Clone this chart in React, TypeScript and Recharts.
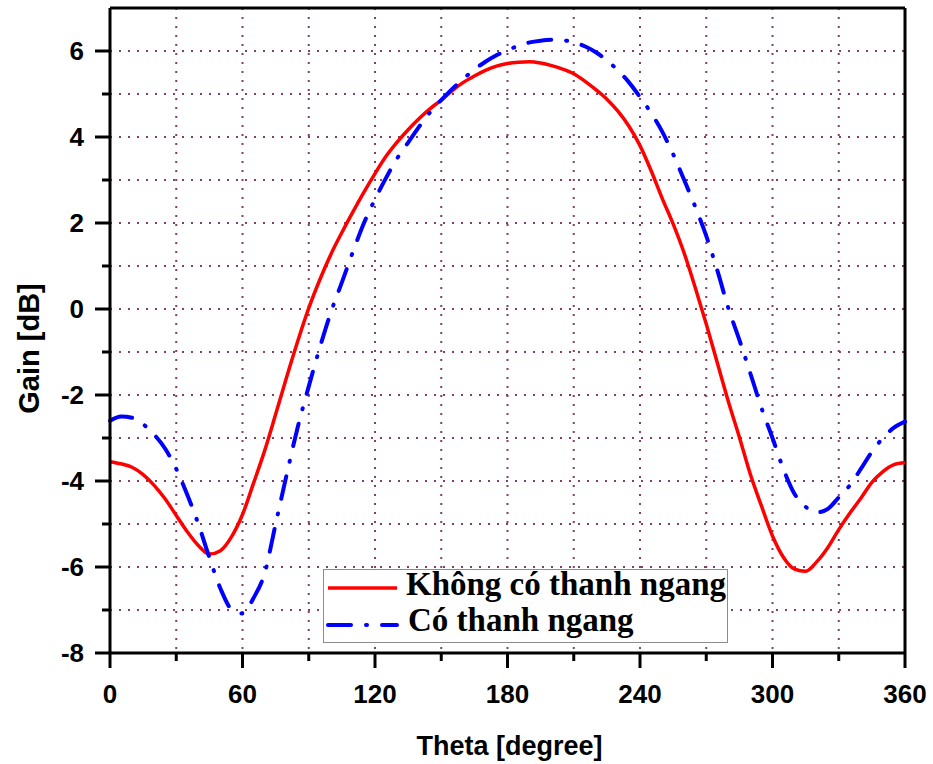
import React from "react";
import {
  LineChart,
  Line,
  XAxis,
  YAxis,
  CartesianGrid,
  ReferenceLine,
  Legend,
  Label,
} from "recharts";

const theta = [
  0, 5, 10, 15, 20, 25, 30, 35, 40, 45, 50, 55, 60, 65, 70, 75, 80, 85, 90, 95,
  100, 105, 110, 115, 120, 125, 130, 135, 140, 145, 150, 155, 160, 165, 170,
  175, 180, 185, 190, 195, 200, 205, 210, 215, 220, 225, 230, 235, 240, 245,
  250, 255, 260, 265, 270, 275, 280, 285, 290, 295, 300, 305, 310, 315, 320,
  325, 330, 335, 340, 345, 350, 355, 360,
];

// Không có thanh ngang
const gainNoBar = [
  -3.55, -3.6, -3.68, -3.85, -4.1, -4.42, -4.8, -5.18, -5.5, -5.7, -5.62,
  -5.3, -4.78, -4.05, -3.3, -2.45, -1.58, -0.75, 0.02, 0.68, 1.27, 1.78, 2.26,
  2.72, 3.15, 3.55, 3.88, 4.17, 4.43, 4.66, 4.86, 5.08, 5.27, 5.42, 5.55, 5.65,
  5.71, 5.74, 5.75, 5.72, 5.66, 5.58, 5.47, 5.3, 5.1, 4.88, 4.6, 4.25, 3.8,
  3.22, 2.58, 1.98, 1.3, 0.5, -0.35, -1.25, -2.15, -2.98, -3.85, -4.58, -5.28,
  -5.78, -6.05, -6.1, -5.88, -5.55, -5.13, -4.75, -4.4, -4.03, -3.78, -3.62,
  -3.57,
];

// Có thanh ngang
const gainBar = [
  -2.6, -2.5, -2.53, -2.68, -2.92, -3.25, -3.72, -4.32, -5.0, -5.78, -6.5,
  -6.98, -7.08, -6.72, -6.15, -5.0, -3.85, -2.75, -1.8, -0.9, -0.08, 0.62,
  1.33, 2.0, 2.55, 3.05, 3.5, 3.87, 4.24, 4.58, 4.86, 5.12, 5.35, 5.57, 5.75,
  5.9, 6.02, 6.12, 6.2, 6.24, 6.26, 6.25, 6.2, 6.11, 5.97, 5.78, 5.55, 5.27,
  4.93, 4.56, 4.13, 3.6, 3.0, 2.38, 1.7, 0.9, 0.02, -0.72, -1.5, -2.3, -3.0,
  -3.73, -4.3, -4.6, -4.73, -4.65, -4.38, -4.1, -3.72, -3.32, -3.0, -2.76,
  -2.62,
];

const xTicks = [0, 30, 60, 90, 120, 150, 180, 210, 240, 270, 300, 330, 360];
const yTicks = [-8, -7, -6, -5, -4, -3, -2, -1, 0, 1, 2, 3, 4, 5, 6];

const data = theta.map((t, i) => ({
  theta: t,
  noBar: gainNoBar[i],
  bar: gainBar[i],
}));

const sans = "'Liberation Sans', Arial, sans-serif";
const serif = "'Liberation Serif', 'Times New Roman', serif";
const dashDot = "23 15 1 15";

const XTick = (props: any) => {
  const { x, y, payload } = props;
  const major = payload.value % 60 === 0;
  return (
    <g>
      <line x1={x} y1={y} x2={x} y2={y + (major ? 15 : 8)} stroke="#000" strokeWidth={3} />
      {major && (
        <text x={x} y={y + 50} textAnchor="middle" fontFamily={sans} fontWeight="bold" fontSize={26} fill="#000">
          {payload.value}
        </text>
      )}
    </g>
  );
};

const YTick = (props: any) => {
  const { x, y, payload } = props;
  const major = payload.value % 2 === 0;
  return (
    <g>
      <line x1={x - (major ? 15 : 8)} y1={y} x2={x} y2={y} stroke="#000" strokeWidth={3} />
      {major && (
        <text x={x - 26} y={y + 9} textAnchor="end" fontFamily={sans} fontWeight="bold" fontSize={26} fill="#000">
          {payload.value}
        </text>
      )}
    </g>
  );
};

const LegendBox = () => (
  <svg width={406} height={76} style={{ display: "block", overflow: "visible" }}>
    <rect x={0.5} y={0.5} width={404} height={73} fill="#fff" stroke="#8c8c8c" strokeWidth={1} />
    <line x1={5} y1={19} x2={74} y2={19} stroke="#ff0000" strokeWidth={3.5} />
    <text x={83} y={26} fontFamily={serif} fontWeight="bold" fontSize={33} fill="#000">
      Không có thanh ngang
    </text>
    <line x1={5} y1={56} x2={74} y2={56} stroke="#0000ff" strokeWidth={4} strokeDasharray={dashDot} strokeLinecap="round" />
    <text x={85} y={62} fontFamily={serif} fontWeight="bold" fontSize={33} fill="#000">
      Có thanh ngang
    </text>
  </svg>
);

export default function App() {
  return (
    <div style={{ position: "absolute", left: 0, top: 0, background: "#fff" }}>
      <LineChart width={933} height={764} data={data} margin={{ top: 8, right: 28, left: 0, bottom: 0 }}>
        <CartesianGrid stroke="#80406a" strokeWidth={2} strokeDasharray="2 7" />
        <XAxis
          dataKey="theta"
          type="number"
          domain={[0, 360]}
          ticks={xTicks}
          interval={0}
          height={111}
          tickSize={0}
          tickMargin={0}
          tickLine={false}
          tick={<XTick />}
          axisLine={{ stroke: "#000", strokeWidth: 3 }}
        >
          <Label
            content={(p: any) => {
              const vb = p.viewBox;
              return (
                <text x={vb.x + vb.width / 2 + 2} y={755} textAnchor="middle" fontFamily={sans} fontWeight="bold" fontSize={27} fill="#000">
                  Theta [degree]
                </text>
              );
            }}
          />
        </XAxis>
        <YAxis
          type="number"
          domain={[-8, 7]}
          ticks={yTicks}
          interval={0}
          width={110}
          tickSize={0}
          tickMargin={0}
          tickLine={false}
          tick={<YTick />}
          axisLine={{ stroke: "#000", strokeWidth: 3 }}
        >
          <Label
            content={(p: any) => {
              const vb = p.viewBox;
              const cy = vb.y + vb.height / 2 + 18;
              return (
                <text x={39} y={cy} transform={`rotate(-90, 39, ${cy})`} textAnchor="middle" fontFamily={sans} fontWeight="bold" fontSize={29} fill="#000">
                  Gain [dB]
                </text>
              );
            }}
          />
        </YAxis>
        <ReferenceLine y={7} stroke="#000" strokeWidth={3} />
        <ReferenceLine x={360} stroke="#000" strokeWidth={3} />
        <Line
          dataKey="noBar"
          type="monotone"
          stroke="#ff0000"
          strokeWidth={3.5}
          dot={false}
          isAnimationActive={false}
        />
        <Line
          dataKey="bar"
          type="monotone"
          stroke="#0000ff"
          strokeWidth={4}
          strokeDasharray={dashDot}
          strokeLinecap="round"
          dot={false}
          isAnimationActive={false}
        />
        <Legend
          layout="horizontal"
          verticalAlign="middle"
          align="center"
          wrapperStyle={{ left: 323, top: 569, width: 406, height: 76 }}
          content={() => <LegendBox />}
        />
      </LineChart>
    </div>
  );
}
